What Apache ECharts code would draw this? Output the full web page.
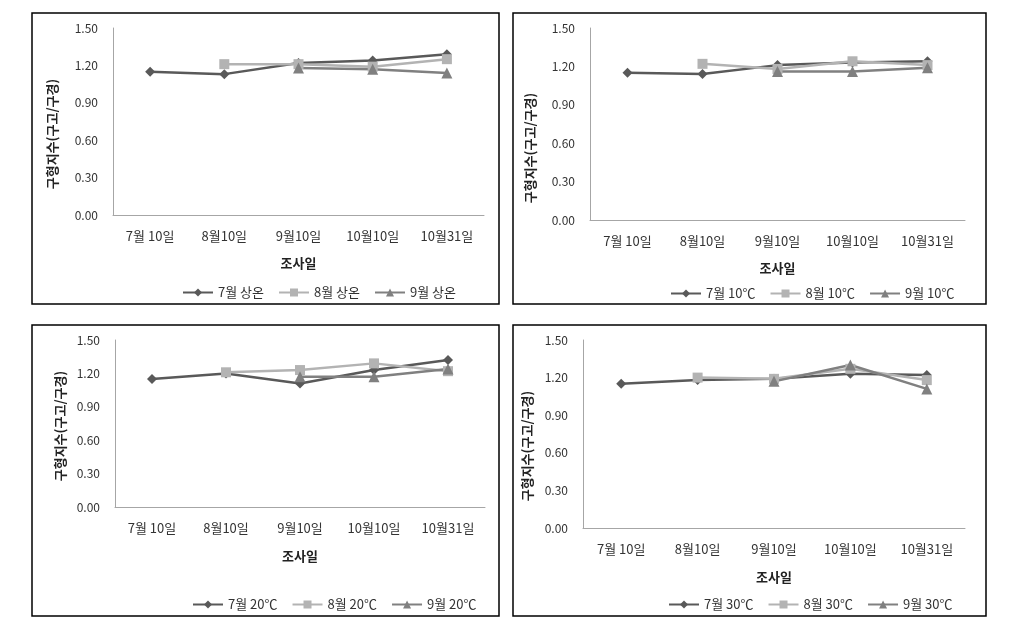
<!DOCTYPE html>
<html>
<head>
<meta charset="utf-8">
<script src="https://cdn.jsdelivr.net/npm/echarts@6/dist/echarts.min.js"></script>
<style>
html,body{margin:0;padding:0;background:#fff;}
#chart{width:1012px;height:629px;}
</style>
</head>
<body>
<div id="chart"></div>
<script>
// ---- data ----
const categories = ['7월 10일', '8월10일', '9월10일', '10월10일', '10월31일'];
const yTicks = [0, 0.3, 0.6, 0.9, 1.2, 1.5];
const yTitle = '구형지수(구고/구경)';
const xTitle = '조사일';

const p1Names = ['7월 상온', '8월 상온', '9월 상온'];
const p1Jul = [1.15, 1.13, 1.22, 1.24, 1.29];
const p1Aug = [null, 1.21, 1.21, 1.19, 1.25];
const p1Sep = [null, null, 1.18, 1.17, 1.14];

const p2Names = ['7월 10℃', '8월 10℃', '9월 10℃'];
const p2Jul = [1.15, 1.14, 1.21, 1.23, 1.24];
const p2Aug = [null, 1.22, 1.18, 1.24, 1.21];
const p2Sep = [null, null, 1.16, 1.16, 1.19];

const p3Names = ['7월 20℃', '8월 20℃', '9월 20℃'];
const p3Jul = [1.15, 1.20, 1.11, 1.23, 1.32];
const p3Aug = [null, 1.21, 1.23, 1.29, 1.22];
const p3Sep = [null, null, 1.17, 1.17, 1.24];

const p4Names = ['7월 30℃', '8월 30℃', '9월 30℃'];
const p4Jul = [1.15, 1.18, 1.19, 1.23, 1.22];
const p4Aug = [null, 1.20, 1.19, 1.27, 1.18];
const p4Sep = [null, null, 1.17, 1.30, 1.11];

// ---- layout / style ----
const FONT = '"Noto Sans CJK KR", "Noto Sans", sans-serif';
const colors = ['#595959', '#b3b3b3', '#808080'];
const symbols = ['diamond', 'rect', 'triangle'];
const symbolSizes = [10, 10, 11];

const panels = [
  { names: p1Names, data: [p1Jul, p1Aug, p1Sep],
    grid: { left: 113, top: 28, width: 371, height: 187 },
    box: [32, 13, 467, 291], yTitle: [52, 134], xTitleY: 263, legend: { left: 177, top: 281 } },
  { names: p2Names, data: [p2Jul, p2Aug, p2Sep],
    grid: { left: 590, top: 28, width: 375, height: 192 },
    box: [513, 13, 473, 291], yTitle: [530, 148], xTitleY: 268, legend: { left: 665, top: 282 } },
  { names: p3Names, data: [p3Jul, p3Aug, p3Sep],
    grid: { left: 115, top: 340, width: 370, height: 167 },
    box: [32, 325, 467, 291], yTitle: [60, 426], xTitleY: 556, legend: { left: 187, top: 593 } },
  { names: p4Names, data: [p4Jul, p4Aug, p4Sep],
    grid: { left: 583, top: 340, width: 382, height: 188 },
    box: [513, 325, 473, 291], yTitle: [527, 446], xTitleY: 577, legend: { left: 663, top: 593 } }
];

const grids = [], xAxes = [], yAxes = [], series = [], legends = [], graphics = [];

panels.forEach((p, i) => {
  grids.push(Object.assign({ containLabel: false }, p.grid));
  xAxes.push({
    type: 'category', gridIndex: i, data: categories, boundaryGap: true,
    axisLine: { lineStyle: { color: '#a6a6a6', width: 1 } },
    axisTick: { show: false },
    axisLabel: { color: '#333', fontSize: 13, fontFamily: FONT, margin: 15, interval: 0 }
  });
  yAxes.push({
    type: 'value', gridIndex: i, min: yTicks[0], max: yTicks[yTicks.length - 1],
    interval: yTicks[1] - yTicks[0],
    axisLine: { show: true, lineStyle: { color: '#a6a6a6', width: 1 } },
    axisTick: { show: false },
    splitLine: { show: false },
    axisLabel: { color: '#333', fontSize: 12, fontFamily: FONT, margin: 15,
      formatter: v => v.toFixed(2) }
  });
  p.names.forEach((name, k) => {
    series.push({
      name: name, type: 'line', xAxisIndex: i, yAxisIndex: i,
      data: p.data[k], connectNulls: false,
      symbol: symbols[k], symbolSize: symbolSizes[k], showSymbol: true,
      lineStyle: { color: colors[k], width: 2.5 },
      itemStyle: { color: colors[k] },
      emphasis: { disabled: true },
      animation: false
    });
  });
  legends.push({
    data: p.names, left: p.legend.left, top: p.legend.top,
    itemWidth: 30, itemHeight: 10, itemGap: 14,
    textStyle: { color: '#333', fontSize: 13, fontFamily: FONT },
    selectedMode: false
  });
  graphics.push({
    type: 'rect', shape: { x: p.box[0], y: p.box[1], width: p.box[2], height: p.box[3] },
    style: { fill: null, stroke: '#000', lineWidth: 1.5 }, silent: true
  });
  graphics.push({
    type: 'text', x: p.yTitle[0], y: p.yTitle[1], rotation: Math.PI / 2,
    style: { text: yTitle, fill: '#222', font: 'bold 13px ' + FONT, align: 'center', verticalAlign: 'middle' },
    silent: true
  });
  graphics.push({
    type: 'text', x: p.grid.left + p.grid.width / 2, y: p.xTitleY,
    style: { text: xTitle, fill: '#222', font: 'bold 13px ' + FONT, align: 'center', verticalAlign: 'middle' },
    silent: true
  });
});

const chart = echarts.init(document.getElementById('chart'), null, { renderer: 'canvas' });
chart.setOption({
  backgroundColor: '#fff',
  animation: false,
  grid: grids, xAxis: xAxes, yAxis: yAxes, series: series,
  legend: legends, graphic: graphics
});
</script>
</body>
</html>
